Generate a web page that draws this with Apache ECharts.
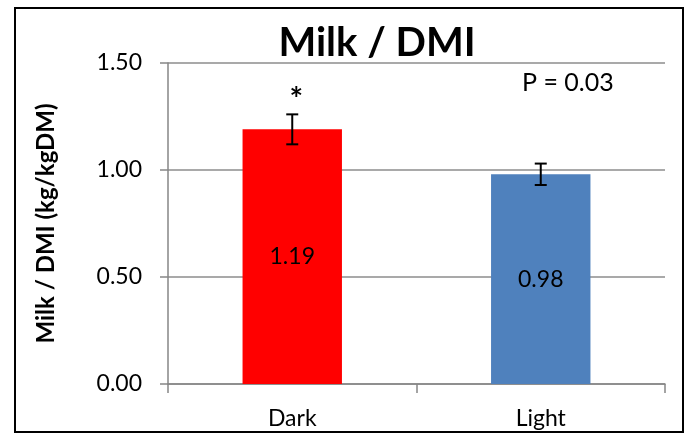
<!DOCTYPE html>
<html>
<head>
<meta charset="utf-8">
<script src="https://cdn.jsdelivr.net/npm/echarts@6/dist/echarts.min.js"></script>
<style>
  html, body { margin: 0; padding: 0; background: #fff; }
  #chart { width: 690px; height: 434px; }
</style>
</head>
<body>
<div id="chart"></div>
<script>
// Treatment groups and their milk-to-intake ratios
const categories = ['Dark', 'Light'];
const means = [1.19, 0.98];
const errors = [0.07, 0.05];
const barColors = ['#ff0000', '#4f81bd'];
const significance = ['*', ''];
const pValueText = 'P = 0.03';

const FONT = 'Lato, "Open Sans", sans-serif';

const chart = echarts.init(document.getElementById('chart'));

const barData = means.map((v, i) => ({
  value: v,
  itemStyle: { color: barColors[i] }
}));

const errorData = means.map((v, i) => [i, v - errors[i], v + errors[i], i]);

chart.setOption({
  animation: false,
  backgroundColor: '#fff',
  grid: { left: 168, right: 25, top: 63, bottom: 50 },
  title: {
    text: 'Milk / DMI',
    left: 372,
    top: 18,
    textAlign: 'center',
    textStyle: { fontFamily: FONT, fontWeight: 'bold', fontSize: 40, color: '#000' }
  },
  graphic: [
    {
      type: 'rect',
      shape: { x: 15, y: 8, width: 668, height: 424 },
      style: { fill: 'none', stroke: '#000', lineWidth: 2 },
      silent: true
    },
    {
      type: 'text',
      left: 522,
      top: 70,
      style: { text: pValueText, font: '25px ' + FONT, fill: '#000' }
    }
  ],
  xAxis: {
    type: 'category',
    data: categories,
    axisLine: { lineStyle: { color: '#868686', width: 1.5 } },
    axisTick: { show: true, length: 9, lineStyle: { color: '#868686', width: 1.5 } },
    axisLabel: { color: '#000', fontFamily: FONT, fontSize: 23, margin: 23 }
  },
  yAxis: {
    type: 'value',
    min: 0,
    max: 1.5,
    interval: 0.5,
    name: 'Milk / DMI (kg/kgDM)',
    nameLocation: 'middle',
    nameGap: 110,
    nameTextStyle: { fontFamily: FONT, fontWeight: 'bold', fontSize: 24, color: '#000' },
    axisLine: { show: true, lineStyle: { color: '#868686', width: 1.5 } },
    axisTick: { show: true, length: 8, lineStyle: { color: '#868686', width: 1.5 } },
    splitLine: { lineStyle: { color: '#8c8c8c', width: 1.5 } },
    axisLabel: {
      color: '#000', fontFamily: FONT, fontSize: 23, margin: 26,
      formatter: v => v.toFixed(2)
    }
  },
  series: [
    {
      type: 'bar',
      data: barData,
      barWidth: '40%',
      label: {
        show: true,
        position: 'inside',
        color: '#000',
        fontFamily: FONT,
        fontSize: 23,
        formatter: p => p.value.toFixed(2)
      }
    },
    {
      type: 'custom',
      data: errorData,
      z: 10,
      renderItem: (params, api) => {
        const x = api.value(0);
        const lo = api.coord([x, api.value(1)]);
        const hi = api.coord([x, api.value(2)]);
        const cap = 6;
        const st = { stroke: '#000', lineWidth: 2 };
        const children = [
          { type: 'line', shape: { x1: hi[0], y1: hi[1], x2: lo[0], y2: lo[1] }, style: st },
          { type: 'line', shape: { x1: hi[0] - cap, y1: hi[1], x2: hi[0] + cap, y2: hi[1] }, style: st },
          { type: 'line', shape: { x1: lo[0] - cap, y1: lo[1], x2: lo[0] + cap, y2: lo[1] }, style: st }
        ];
        const mark = significance[api.value(3)];
        if (mark) {
          children.push({
            type: 'text',
            x: hi[0] + 4,
            y: hi[1] + 2,
            style: {
              text: mark, font: 'bold 32px ' + FONT, fill: '#000',
              textAlign: 'center', textVerticalAlign: 'bottom'
            }
          });
        }
        return { type: 'group', children };
      }
    }
  ]
});
</script>
</body>
</html>
